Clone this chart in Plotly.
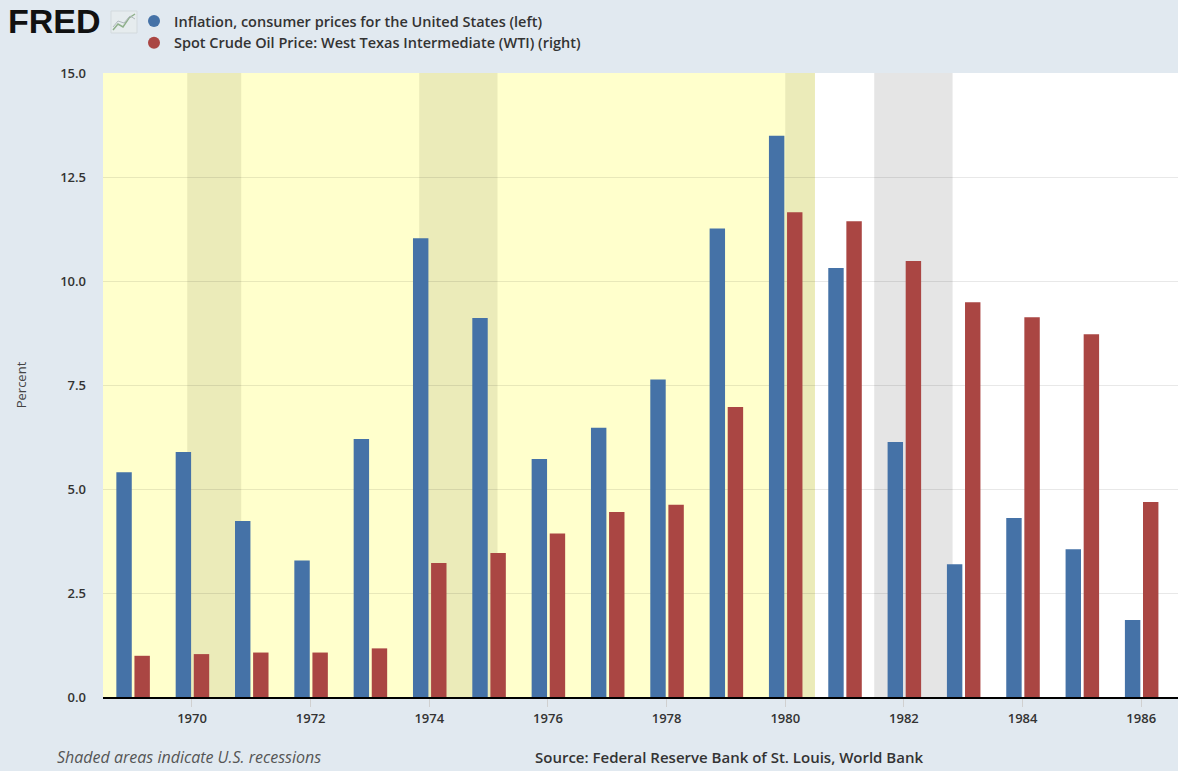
import plotly.graph_objects as go

years = list(range(1969, 1987))
inflation = [5.4, 5.89, 4.23, 3.28, 6.2, 11.03, 9.11, 5.72, 6.47, 7.63,
             11.26, 13.49, 10.31, 6.13, 3.19, 4.3, 3.55, 1.85]
wti = [3.17, 3.3, 3.42, 3.42, 3.74, 10.3, 11.07, 12.58, 14.24, 14.78,
       22.3, 37.28, 36.6, 33.54, 30.37, 29.22, 27.9, 15.0]
recessions = [(1969.92, 1970.83), (1973.83, 1975.15), (1980.0, 1980.5), (1981.5, 1982.82)]
highlight = (1968.5, 1980.5)

name_infl = "Inflation, consumer prices for the United States (left)"
name_wti = "Spot Crude Oil Price: West Texas Intermediate (WTI) (right)"
BLUE = "#4572a7"
RED = "#aa4643"

W, H = 1178, 771
L, R, T, B = 103, 0, 73, 74
PW, PH = W - L - R, H - T - B


def px(x):
    return (x - L) / PW


def py(y):
    return (H - B - y) / PH


fig = go.Figure()
fig.add_trace(go.Bar(x=years, y=inflation, name=name_infl, marker_color=BLUE,
                     marker_line_width=0, width=0.26, offset=-0.275,
                     showlegend=False, yaxis="y"))
fig.add_trace(go.Bar(x=years, y=wti, name=name_wti, marker_color=RED,
                     marker_line_width=0, width=0.26, offset=0.03,
                     showlegend=False, yaxis="y2"))
# legend entries with circle markers
fig.add_trace(go.Scatter(x=[None], y=[None], mode="markers", name=name_infl,
                         marker=dict(color=BLUE, size=13, symbol="circle")))
fig.add_trace(go.Scatter(x=[None], y=[None], mode="markers", name=name_wti,
                         marker=dict(color=RED, size=13, symbol="circle")))

shapes = [dict(type="rect", xref="x", yref="paper", x0=highlight[0], x1=highlight[1],
               y0=0, y1=1, fillcolor="#ffffcc", line_width=0, layer="below")]
for a, b in recessions:
    inside = b <= highlight[1] + 1e-9
    shapes.append(dict(type="rect", xref="x", yref="paper", x0=a, x1=b, y0=0, y1=1,
                       fillcolor="#ebebb9" if inside else "#e5e5e5",
                       line_width=0, layer="below"))
# small FRED chart icon
shapes.append(dict(type="rect", xref="paper", yref="paper",
                   x0=px(111), x1=px(137), y0=py(33), y1=py(11),
                   fillcolor="#e6ecee", line=dict(color="#d3dadd", width=1), layer="above"))
shapes.append(dict(type="path", xref="paper", yref="paper",
                   path=f"M {px(113)},{py(30)} L {px(118)},{py(24)} L {px(123)},{py(27)} "
                        f"L {px(129)},{py(18)} L {px(135)},{py(14)}",
                   line=dict(color="#8fb08a", width=1.5), layer="above"))
shapes.append(dict(type="path", xref="paper", yref="paper",
                   path=f"M {px(113)},{py(27)} L {px(118)},{py(21)} L {px(124)},{py(23)} "
                        f"L {px(130)},{py(16)} L {px(135)},{py(19)}",
                   line=dict(color="#b0b8bc", width=1), layer="above"))

annotations = [
    dict(text="<b>FRED</b>", xref="paper", yref="paper", x=px(6), y=py(21),
         xanchor="left", yanchor="middle", showarrow=False,
         font=dict(family="Liberation Sans, Arial", size=34, color="#111111")),
    dict(text="<i>Shaded areas indicate U.S. recessions</i>", xref="paper", yref="paper",
         x=px(55), y=py(757), xanchor="left", yanchor="middle", showarrow=False,
         font=dict(family="Open Sans", size=16, color="#555555")),
    dict(text="Source: Federal Reserve Bank of St. Louis, World Bank", xref="paper", yref="paper",
         x=px(533), y=py(757), xanchor="left", yanchor="middle", showarrow=False,
         font=dict(family="Open Sans", size=15, color="#333333", weight=600)),
]

fig.update_layout(
    width=W, height=H,
    margin=dict(l=L, r=R, t=T, b=B, autoexpand=False),
    paper_bgcolor="#e1e9f0", plot_bgcolor="#ffffff",
    barmode="overlay",
    font=dict(family="Open Sans", color="#333333"),
    shapes=shapes, annotations=annotations,
    legend=dict(x=px(134), y=py(5), xanchor="left", yanchor="top",
                bgcolor="rgba(0,0,0,0)",
                font=dict(family="Open Sans", size=14.5, color="#333333", weight=600),
                tracegroupgap=0, itemsizing="constant"),
    xaxis=dict(range=[1968.5, 1986.62], tickmode="linear", tick0=1970, dtick=2,
               showgrid=False, zeroline=False, showline=True, linecolor="#000000",
               linewidth=2, ticks="outside", ticklen=8, tickcolor="#d0d0d0",
               tickfont=dict(size=13, color="#333333", weight=600), automargin=False),
    yaxis=dict(range=[0, 15], tickmode="linear", tick0=0, dtick=2.5, tickformat=".1f",
               showgrid=True, gridcolor="rgba(0,0,0,0.09)", gridwidth=1,
               zeroline=False, ticks="", ticklabelstandoff=16, automargin=False,
               tickfont=dict(size=13, color="#333333", weight=600),
               title=dict(text="Percent", font=dict(size=13, color="#444444"), standoff=30)),
    yaxis2=dict(range=[0, 48], overlaying="y", side="right", showgrid=False,
                showticklabels=False, zeroline=False, ticks="", automargin=False),
)

fig.write_html("out.html", config={"displayModeBar": False},
               post_script="document.body.style.margin='0';")
